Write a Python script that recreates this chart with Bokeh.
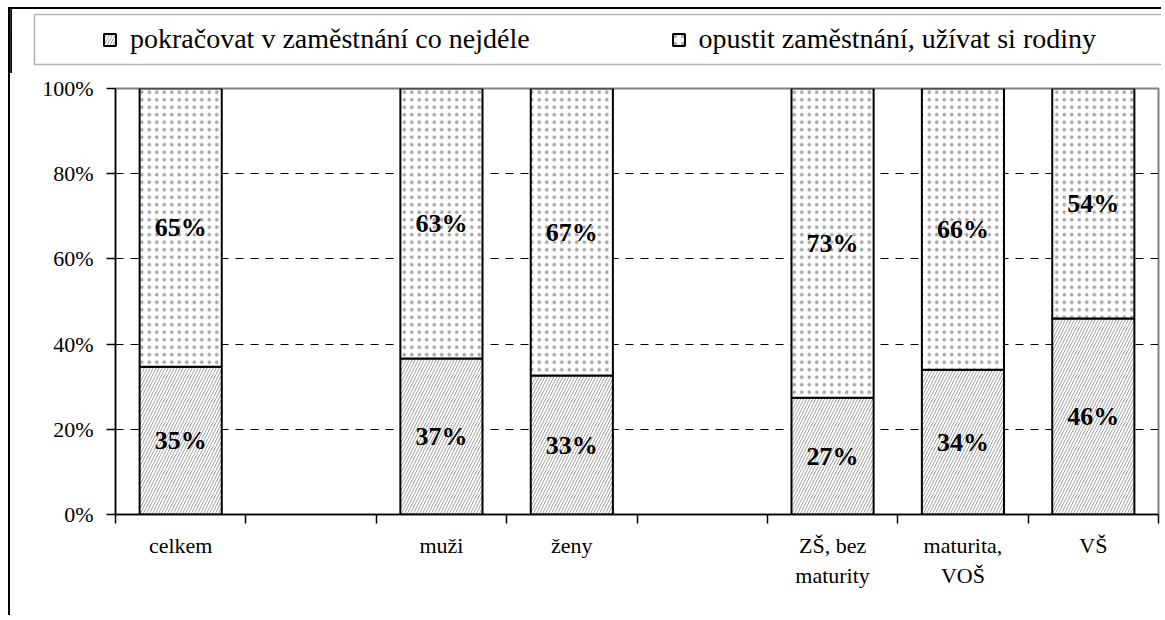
from bokeh.plotting import figure
from bokeh.models import (Range1d, FixedTicker, Legend, LegendItem, ColumnDataSource,
                          PrintfTickFormatter, BoxAnnotation)
from bokeh.core.properties import value
from bokeh.embed import file_html
from bokeh.resources import INLINE

# ---- data -------------------------------------------------------------
categories = ["celkem", "", "muži", "ženy", "", "ZŠ, bez\nmaturity", "maturita,\nVOŠ", "VŠ"]
continue_pct = [34.7, None, 36.6, 32.6, None, 27.4, 34.0, 46.0]
leave_pct = [65.3, None, 63.4, 67.4, None, 72.6, 66.0, 54.0]
series_names = ["pokračovat v zaměstnání co nejdéle", "opustit zaměstnání, užívat si rodiny"]
y_ticks = [0, 20, 40, 60, 80, 100]
grid_ticks = [20, 40, 60, 80]

FONT = "Liberation Serif"

idx = [i for i in range(len(categories)) if continue_pct[i] is not None]
xs = [i + 0.5 for i in idx]
cv = [continue_pct[i] for i in idx]
lv = [leave_pct[i] for i in idx]
src = ColumnDataSource(dict(
    x=xs,
    zero=[0] * len(xs),
    c=cv,
    top=[a + b for a, b in zip(cv, lv)],
    cmid=[a / 2 for a in cv],
    lmid=[a + b / 2 for a, b in zip(cv, lv)],
    clab=[f"{round(a)}%" for a in cv],
    llab=[f"{round(b)}%" for b in lv],
))

style_continue = dict(fill_color="white", line_color="black", line_width=2,
                      hatch_pattern="/", hatch_color="#a3a3a3", hatch_scale=6, hatch_weight=1)
style_leave = dict(fill_color="white", line_color="black", line_width=2,
                   hatch_pattern=".", hatch_color="#a6a6a6", hatch_scale=7.5, hatch_weight=0.5)

# ---- legend strip (separate root, so that its box may start left of the chart) ----
p_leg = figure(width=1153, height=66, x_range=Range1d(10, 1163), y_range=Range1d(75, 9),
               output_backend="svg", toolbar_location=None,
               x_axis_location=None, y_axis_location=None,
               min_border_left=0, min_border_right=0, min_border_top=0, min_border_bottom=0)
p_leg.styles = {"margin-left": "8px", "margin-top": "7px",
                "border-left": "2px solid black", "border-top": "2px solid black"}
p_leg.grid.visible = False
p_leg.outline_line_color = None
p_leg.add_layout(BoxAnnotation(left=34, right=1400, top=14, bottom=64,
                               fill_color="white", line_color="black", line_width=1.5))
# same series (they fall outside this strip's ranges, only their legend glyphs show)
lr1 = p_leg.vbar(x="x", bottom="zero", top="c", width=0.63, source=src, **style_continue)
lr2 = p_leg.vbar(x="x", bottom="c", top="top", width=0.63, source=src, **style_leave)
legend = Legend(items=[LegendItem(label=series_names[0], renderers=[lr1]),
                       LegendItem(label=series_names[1], renderers=[lr2])],
                orientation="horizontal", location=(92, 20),
                padding=0, margin=0, spacing=141,
                glyph_width=15, glyph_height=15, label_standoff=13,
                label_text_font=FONT, label_text_font_size="28px",
                label_text_color="black",
                border_line_color=None, background_fill_alpha=0)
p_leg.add_layout(legend)

# ---- main chart --------------------------------------------------------
p = figure(width=1152, height=542,
           x_range=Range1d(0, len(categories)), y_range=Range1d(0, 100),
           output_backend="svg", toolbar_location=None,
           min_border_left=105, min_border_right=4, min_border_top=15, min_border_bottom=101)
p.styles = {"margin-left": "8px", "border-left": "2px solid black"}

p.outline_line_color = "#808080"
p.outline_line_width = 2

p.vbar(x="x", bottom="zero", top="c", width=0.63, source=src, **style_continue)
p.vbar(x="x", bottom="c", top="top", width=0.63, source=src, **style_leave)

p.text(x="x", y="cmid", text="clab", source=src, text_font=value(FONT),
       text_font_style="bold", text_font_size="26px", text_align="center",
       text_baseline="middle", text_color="black")
p.text(x="x", y="lmid", text="llab", source=src, text_font=value(FONT),
       text_font_style="bold", text_font_size="26px", text_align="center",
       text_baseline="middle", text_color="black")

p.yaxis.ticker = FixedTicker(ticks=y_ticks)
p.yaxis.formatter = PrintfTickFormatter(format="%d%%")
p.yaxis.major_label_text_font = FONT
p.yaxis.major_label_text_font_size = "22px"
p.yaxis.major_label_text_color = "black"
p.yaxis.major_tick_out = 9
p.yaxis.major_tick_in = 0
p.yaxis.major_tick_line_color = "black"
p.yaxis.major_tick_line_width = 1.5
p.yaxis.minor_tick_line_color = None
p.yaxis.axis_line_color = "black"
p.yaxis.axis_line_width = 1.5
p.yaxis.major_label_standoff = 13

p.xaxis.ticker = FixedTicker(ticks=[i + 0.5 for i in range(len(categories))],
                             minor_ticks=list(range(len(categories) + 1)))
p.xaxis.major_label_overrides = {i + 0.5: c for i, c in enumerate(categories)}
p.xaxis.major_label_text_font = FONT
p.xaxis.major_label_text_font_size = "22px"
p.xaxis.major_label_text_color = "black"
p.xaxis.major_tick_line_color = None
p.xaxis.major_tick_out = 9
p.xaxis.minor_tick_out = 9
p.xaxis.minor_tick_in = 0
p.xaxis.minor_tick_line_color = "black"
p.xaxis.minor_tick_line_width = 1.5
p.xaxis.axis_line_color = "black"
p.xaxis.axis_line_width = 1.5
p.xaxis.major_label_standoff = 9

p.xgrid.grid_line_color = None
p.ygrid.ticker = FixedTicker(ticks=grid_ticks)
p.ygrid.grid_line_color = "black"
p.ygrid.grid_line_dash = "8 7"
p.ygrid.grid_line_width = 1

open("out.html", "w").write(file_html([p_leg, p], INLINE))
